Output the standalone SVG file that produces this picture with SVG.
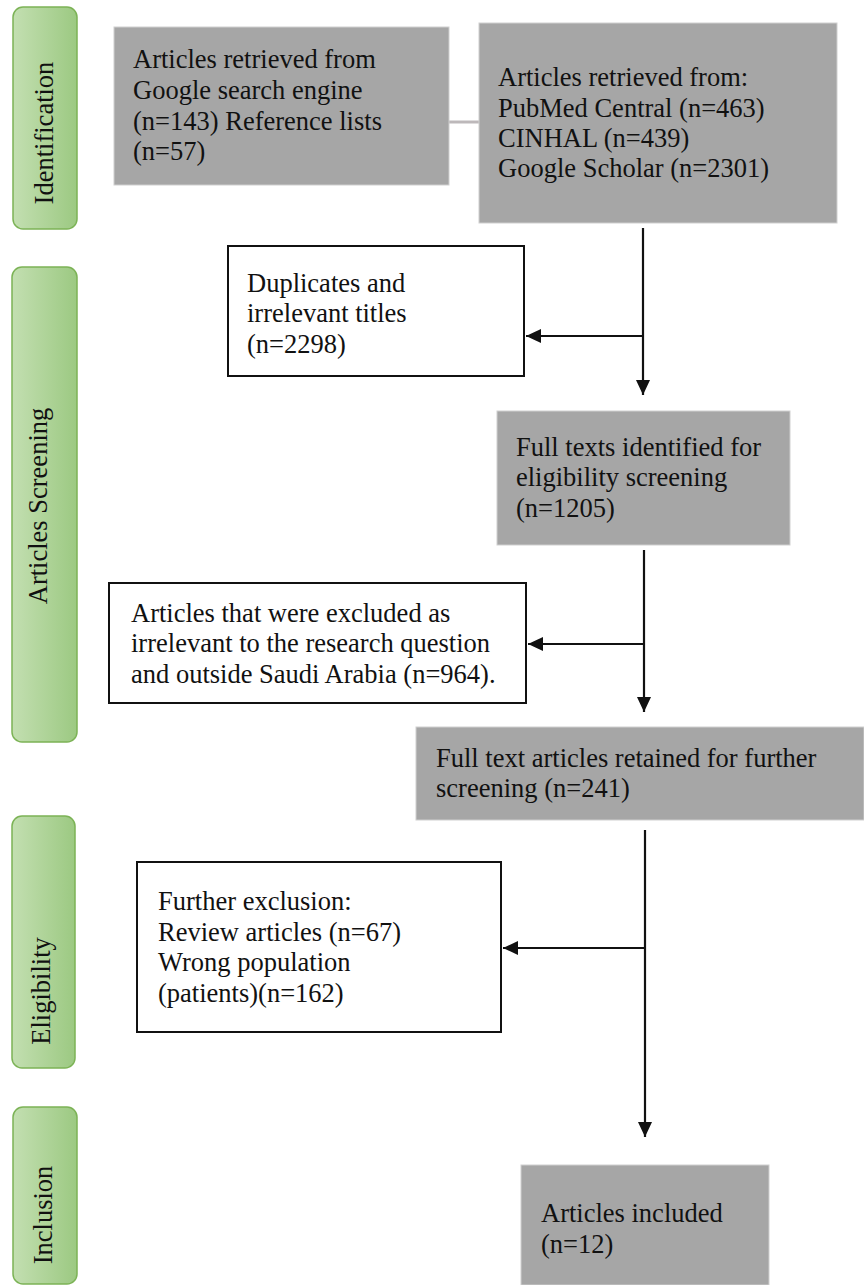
<svg xmlns="http://www.w3.org/2000/svg" width="864" height="1285" viewBox="0 0 864 1285">
<style>
text{font-family:"Liberation Serif","Times New Roman",serif;font-size:26.5px;fill:#111}
.stage{stroke:#7cb356;stroke-width:1.5}
.gray{fill:#a6a6a6;stroke:#cfcfcf;stroke-width:1}
.white{fill:#fff;stroke:#111;stroke-width:2}
.conn{stroke:#111;stroke-width:2.2;fill:none}
</style>
<defs>
<linearGradient id="g" x1="0" y1="0" x2="1" y2="0">
<stop offset="0" stop-color="#c3dfb1"/>
<stop offset="1" stop-color="#9cc982"/>
</linearGradient>
<marker id="ah" markerUnits="userSpaceOnUse" markerWidth="16" markerHeight="15" refX="15" refY="7" orient="auto">
<path d="M0,0 L15,7 L0,14 z" fill="#111"/>
</marker>
</defs>

<g id="stage-identification">
<rect class="stage" x="13" y="7" width="64" height="222" rx="10" fill="url(#g)"/>
<text transform="translate(53,133) rotate(-90)" text-anchor="middle">Identification</text>
</g>
<g id="stage-screening">
<rect class="stage" x="12" y="267" width="65" height="475" rx="10" fill="url(#g)"/>
<text transform="translate(47,506) rotate(-90)" text-anchor="middle">Articles Screening</text>
</g>
<g id="stage-eligibility">
<rect class="stage" x="12" y="816" width="63" height="252" rx="10" fill="url(#g)"/>
<text transform="translate(50,991) rotate(-90)" text-anchor="middle">Eligibility</text>
</g>
<g id="stage-inclusion">
<rect class="stage" x="13" y="1107" width="64" height="177" rx="10" fill="url(#g)"/>
<text transform="translate(52,1215) rotate(-90)" text-anchor="middle">Inclusion</text>
</g>

<g id="connectors">
<line x1="449" y1="122" x2="479" y2="122" stroke="#bdb8ba" stroke-width="3"/>
<line class="conn" x1="643" y1="228" x2="643" y2="395" marker-end="url(#ah)"/>
<line class="conn" x1="643" y1="336" x2="526" y2="336" marker-end="url(#ah)"/>
<line class="conn" x1="644" y1="550" x2="644" y2="712" marker-end="url(#ah)"/>
<line class="conn" x1="644" y1="644" x2="528" y2="644" marker-end="url(#ah)"/>
<line class="conn" x1="645" y1="830" x2="645" y2="1137" marker-end="url(#ah)"/>
<line class="conn" x1="645" y1="948" x2="503" y2="948" marker-end="url(#ah)"/>
</g>

<g id="google">
<rect class="gray" x="114" y="27" width="335" height="158"/>
<text x="133" y="68">Articles retrieved from</text>
<text x="133" y="99">Google search engine</text>
<text x="133" y="130">(n=143) Reference lists</text>
<text x="133" y="160">(n=57)</text>
</g>
<g id="databases">
<rect class="gray" x="479" y="23" width="358" height="200"/>
<text x="498" y="86">Articles retrieved from:</text>
<text x="498" y="116.5">PubMed Central (n=463)</text>
<text x="498" y="147">CINHAL (n=439)</text>
<text x="498" y="177">Google Scholar (n=2301)</text>
</g>
<g id="duplicates">
<rect class="white" x="228" y="246" width="296" height="130"/>
<text x="247" y="292">Duplicates and</text>
<text x="247" y="322">irrelevant titles</text>
<text x="247" y="353">(n=2298)</text>
</g>
<g id="fulltexts">
<rect class="gray" x="497" y="411" width="293" height="134"/>
<text x="516" y="456">Full texts identified for</text>
<text x="516" y="486">eligibility screening</text>
<text x="516" y="517">(n=1205)</text>
</g>
<g id="excluded">
<rect class="white" x="109" y="583" width="417" height="120"/>
<text x="131" y="622">Articles that were excluded as</text>
<text x="131" y="652">irrelevant to the research question</text>
<text x="131" y="683">and outside Saudi Arabia (n=964).</text>
</g>
<g id="retained">
<rect class="gray" x="416" y="727" width="448" height="93"/>
<text x="436" y="767">Full text articles retained for further</text>
<text x="436" y="797">screening (n=241)</text>
</g>
<g id="further">
<rect class="white" x="137" y="862" width="364" height="170"/>
<text x="158" y="910">Further exclusion:</text>
<text x="158" y="941">Review articles (n=67)</text>
<text x="158" y="971">Wrong population</text>
<text x="158" y="1002">(patients)(n=162)</text>
</g>
<g id="included">
<rect class="gray" x="521" y="1165" width="248" height="120"/>
<text x="541" y="1222">Articles included</text>
<text x="541" y="1253">(n=12)</text>
</g>
</svg>
